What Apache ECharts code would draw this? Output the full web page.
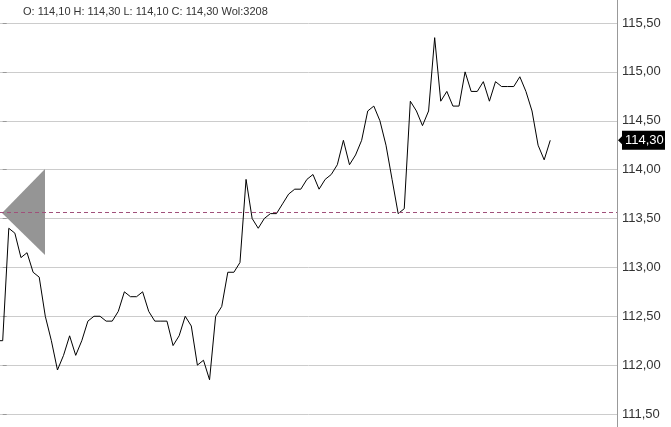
<!DOCTYPE html>
<html>
<head>
<meta charset="utf-8">
<script src="https://cdn.jsdelivr.net/npm/echarts@6/dist/echarts.min.js"></script>
<style>
html,body{margin:0;padding:0;background:#fff;}
#chart{width:671px;height:427px;}
</style>
</head>
<body>
<div id="chart"></div>
<script>
// Price series (index -1 is partly off the left edge)
var indices = [];
var prices = [
  112.25, 112.25, 113.40, 113.35, 113.10, 113.15, 112.95, 112.90, 112.50, 112.25,
  111.95, 112.10, 112.30, 112.10, 112.25, 112.45, 112.50, 112.50, 112.45, 112.45,
  112.55, 112.75, 112.70, 112.70, 112.75, 112.55, 112.45, 112.45, 112.45, 112.20,
  112.30, 112.50, 112.40, 112.00, 112.05, 111.85, 112.50, 112.60, 112.95, 112.95,
  113.05, 113.90, 113.50, 113.40, 113.50, 113.55, 113.55, 113.65, 113.75, 113.80,
  113.80, 113.90, 113.95, 113.80, 113.90, 113.95, 114.05, 114.30, 114.05, 114.15,
  114.30, 114.60, 114.65, 114.50, 114.25, 113.90, 113.55, 113.60, 114.70, 114.60,
  114.45, 114.60, 115.35, 114.70, 114.80, 114.65, 114.65, 115.00, 114.80, 114.80,
  114.90, 114.70, 114.90, 114.85, 114.85, 114.85, 114.95, 114.80, 114.60, 114.25,
  114.10, 114.30
];
for (var i = 0; i < prices.length; i++) indices.push(i - 1);

var yTicks = [111.5, 112.0, 112.5, 113.0, 113.5, 114.0, 114.5, 115.0, 115.5];
var refLevel = 113.555;
var header = 'O: 114,10 H: 114,30 L: 114,10 C: 114,30 Wol:3208';
var lastPrice = prices[prices.length - 1];

function fmt(v) { return v.toFixed(2).replace('.', ','); }

var chart = echarts.init(document.getElementById('chart'), null, {renderer: 'canvas'});
var data = indices.map(function (x, k) { return [x, prices[k]]; });

chart.setOption({
  animation: false,
  backgroundColor: '#ffffff',
  grid: {left: 0, right: 54, top: 23, bottom: 13, containLabel: false},
  xAxis: {
    type: 'value', min: -0.444, max: 100.97, show: false,
    splitLine: {show: false}
  },
  yAxis: {
    type: 'value', position: 'right', min: yTicks[0], max: yTicks[yTicks.length - 1], interval: 0.5,
    axisLine: {show: false},
    axisTick: {show: true, length: 4, lineStyle: {color: '#999999'}},
    axisLabel: {
      margin: 5, color: '#333333', fontSize: 13,
      fontFamily: 'Liberation Sans, Arial, sans-serif',
      formatter: function (v) { return fmt(v); }
    },
    splitLine: {show: true, lineStyle: {color: '#cccccc', width: 1}}
  },
  series: [{
    type: 'line',
    data: data,
    symbol: 'none',
    clip: true,
    lineStyle: {color: '#000000', width: 1},
    markLine: {
      silent: true, symbol: 'none',
      label: {show: false},
      lineStyle: {color: '#a0507a', type: [4, 3], width: 1},
      data: [{yAxis: refLevel}],
      z: 10
    },
    z: 5
  }]
});

function build() {
  var axX = chart.convertToPixel({gridIndex: 0}, [100.97, yTicks[0]])[0];
  var refY = chart.convertToPixel({yAxisIndex: 0}, refLevel);
  var lastY = chart.convertToPixel({yAxisIndex: 0}, lastPrice);
  chart.setOption({
    graphic: [
      {type: 'line', shape: {x1: axX + 0.5, y1: 0, x2: axX + 0.5, y2: 427},
       style: {stroke: '#999999', lineWidth: 1}, z: 20},
      {type: 'polygon', shape: {points: [[2, refY], [45, refY - 44], [45, refY + 42]]},
       style: {fill: '#959595'}, z: 1},
      {type: 'text', left: 23, top: 6,
       style: {text: header, fill: '#333333', font: '11px "Liberation Sans", Arial, sans-serif'}, z: 20},
      {type: 'polygon', shape: {points: [[axX + 1, lastY], [axX + 6, lastY - 5], [axX + 6, lastY + 5]]},
       style: {fill: '#000000'}, z: 20},
      {type: 'rect', shape: {x: axX + 5, y: lastY - 9.5, width: 43, height: 19},
       style: {fill: '#000000'}, z: 20},
      {type: 'text', x: axX + 8, y: lastY,
       style: {text: fmt(lastPrice), fill: '#ffffff', font: '13px "Liberation Sans", Arial, sans-serif', verticalAlign: 'middle'}, z: 21}
    ]
  });
}
build();
</script>
</body>
</html>
